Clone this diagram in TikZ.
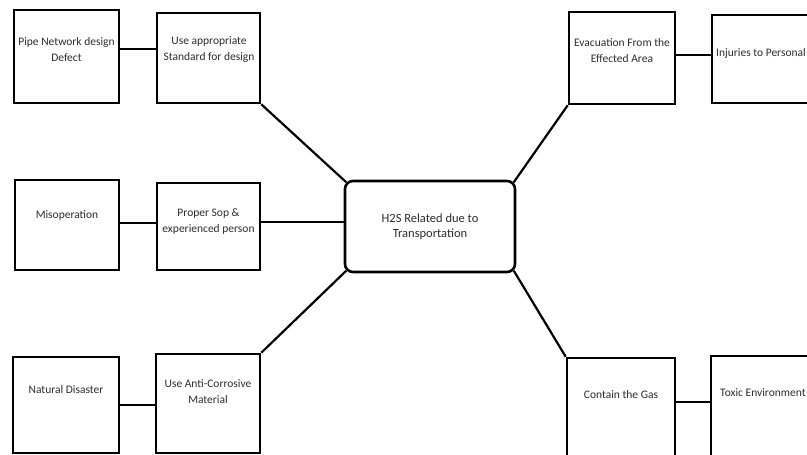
\documentclass[tikz,border=0pt]{standalone}
\usepackage{fontspec}
\setmainfont{Carlito}
\begin{document}
\begin{tikzpicture}[x=1pt,y=-1pt,
  box/.style={draw=black,line width=2.6pt,fill=white,inner sep=0pt},
  hub/.style={draw=black,line width=2.6pt,fill=white,rounded corners=8pt,inner sep=0pt},
  txt/.style={align=center,text=black!82,font=\fontsize{11.5}{15.5}\selectfont,inner sep=0pt},
  link/.style={draw=black,line width=2.2pt}]
\useasboundingbox (0,0) rectangle (807,455);
% left column
\node[box,minimum width=105pt,minimum height=93pt] (b1) at (66.5,56.5) {};
\node[box,minimum width=103pt,minimum height=90pt] (b2) at (208.5,58) {};
\node[box,minimum width=104pt,minimum height=90pt] (b3) at (67,225) {};
\node[box,minimum width=103pt,minimum height=87pt] (b4) at (208.5,226.5) {};
\node[box,minimum width=106pt,minimum height=96pt] (b5) at (66,405) {};
\node[box,minimum width=104pt,minimum height=99pt] (b6) at (208,403.5) {};
% centre
\node[hub,minimum width=170pt,minimum height=91pt] (c) at (430,226.5) {};
% right column
\node[box,minimum width=106pt,minimum height=92pt] (e1) at (622,58) {};
\node[box,minimum width=100pt,minimum height=88pt] (e2) at (762,59) {};
\node[box,minimum width=108pt,minimum height=112pt] (e3) at (621,414) {};
\node[box,minimum width=104pt,minimum height=114pt] (e4) at (763,413) {};
% texts
\node[txt] (t1) at (66.5,49.5) {Pipe Network design\\Defect};
\node[txt] (t2) at (209,49.5) {Use appropriate\\Standard for design};
\node[txt] (t3) at (67,215) {Misoperation};
\node[txt] (t4) at (208.5,221.5) {Proper Sop \&\\experienced person};
\node[txt] (t5) at (66,390) {Natural Disaster};
\node[txt] (t6) at (208,391.5) {Use Anti-Corrosive\\Material};
\node[txt,font=\fontsize{12.5}{15.5}\selectfont] (tc) at (430,226.5) {H2S Related due to\\Transportation};
\node[txt] (te1) at (622,50.5) {Evacuation From the\\Effected Area};
\node[txt,anchor=west] (te2) at (716,53) {Injuries to Personal};
\node[txt] (te3) at (621,395) {Contain the Gas};
\node[txt,anchor=west] (te4) at (720,393) {Toxic Environment};
% connectors
\draw[link] ([yshift=7.5pt]b1.east) -- ([yshift=9pt]b2.west);
\draw[link] ([yshift=2pt]b3.east) -- ([yshift=3.5pt]b4.west);
\draw[link] ([yshift=4.5pt]b4.east) -- ([yshift=4.5pt]c.west);
\draw[link] (b5.east) -- ([yshift=-1.5pt]b6.west);
\draw[link] ([yshift=3pt]e1.east) -- ([yshift=4pt]e2.west);
\draw[link] ([yshift=12pt]e3.east) -- ([yshift=11pt]e4.west);
\draw[link] (b2.south east) -- ([xshift=2.5pt,yshift=-2.5pt]c.north west);
\draw[link] (b6.north east) -- ([xshift=2.5pt,yshift=2.5pt]c.south west);
\draw[link] ([xshift=-2.5pt,yshift=-2.5pt]c.north east) -- (e1.south west);
\draw[link] ([xshift=-2.5pt,yshift=2.5pt]c.south east) -- (e3.north west);
\end{tikzpicture}
\end{document}
